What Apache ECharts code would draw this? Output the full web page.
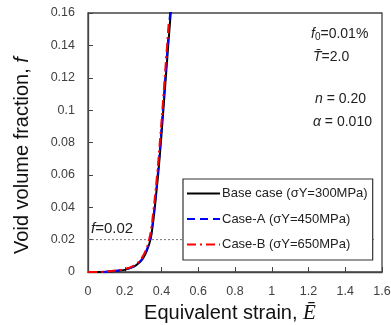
<!DOCTYPE html>
<html><head><meta charset="utf-8">
<script src="https://cdn.jsdelivr.net/npm/echarts@6/dist/echarts.min.js"></script>
<style>html,body{margin:0;padding:0;background:#fff}#c{width:391px;height:325px}</style>
</head><body><div id="c"></div>
<script>
// Data
const strainBase = [0, 0.05, 0.10, 0.15, 0.20, 0.25, 0.28, 0.30, 0.32, 0.34, 0.35, 0.36, 0.37, 0.38, 0.39, 0.40, 0.42, 0.44, 0.455];
const fBase      = [0, 0, 0.0002, 0.0006, 0.0013, 0.0033, 0.0058, 0.0085, 0.013, 0.020, 0.027, 0.036, 0.047, 0.058, 0.071, 0.085, 0.115, 0.145, 0.167];
const strainA    = [0, 0.05, 0.10, 0.15, 0.20, 0.25, 0.28, 0.30, 0.32, 0.34, 0.35, 0.36, 0.37, 0.38, 0.39, 0.40, 0.42, 0.44, 0.455];
const fA         = [0, 0, 0.0002, 0.0007, 0.0015, 0.0036, 0.0062, 0.009, 0.0138, 0.021, 0.0285, 0.038, 0.049, 0.061, 0.074, 0.089, 0.119, 0.150, 0.172];
const strainB    = [0, 0.05, 0.10, 0.15, 0.20, 0.25, 0.28, 0.30, 0.32, 0.33, 0.34, 0.35, 0.36, 0.37, 0.38, 0.39, 0.40, 0.42, 0.44];
const fB         = [0, 0, 0.0003, 0.0009, 0.0018, 0.0040, 0.0068, 0.010, 0.015, 0.019, 0.024, 0.032, 0.042, 0.053, 0.065, 0.079, 0.093, 0.124, 0.155];
const xTicks = {min: 0, max: 1.6, step: 0.2};
const yTicks = {min: 0, max: 0.16, step: 0.02};
const refLevel = 0.02;
const refSpan = [0, 1.56];
const names = ['Base case (σY=300MPa)', 'Case-A (σY=450MPa)', 'Case-B (σY=650MPa)'];

const zip = (a, b) => a.map((v, i) => [v, b[i]]);
const chart = echarts.init(document.getElementById('c'));
const FONT = 'Liberation Sans, Arial, sans-serif';
const ann = (fs) => ({
  i: {fontSize: fs, fontStyle: 'italic', fill: '#222', fontFamily: FONT},
  s: {fontSize: fs - 4, fill: '#222', fontFamily: FONT, padding: [6, 0, 0, 0]},
  n: {fontSize: fs, fill: '#222', fontFamily: FONT}
});
chart.setOption({
  animation: false,
  textStyle: {fontFamily: FONT},
  grid: {left: 88, right: 9, top: 13, bottom: 53, show: true, borderColor: '#444', borderWidth: 1.3,
         containLabel: false, outerBoundsMode: 'none'},
  xAxis: {
    type: 'value', min: xTicks.min, max: xTicks.max, interval: xTicks.step,
    axisLine: {lineStyle: {color: '#444', width: 1.3}},
    axisTick: {inside: true, length: 5, lineStyle: {color: '#444'}},
    splitLine: {show: false},
    axisLabel: {color: '#404040', fontSize: 12.5, margin: 13, fontFamily: FONT},
    name: '{t|Equivalent strain, }{e|E\u0304}', nameLocation: 'middle', nameGap: 21,
    nameTextStyle: {padding: [0, 10, 0, 0], rich: {
      t: {fontSize: 20, color: '#111', fontFamily: FONT},
      e: {fontSize: 21, color: '#111', fontFamily: 'Liberation Serif, serif', fontStyle: 'italic'}
    }}
  },
  yAxis: {
    type: 'value', min: yTicks.min, max: yTicks.max, interval: yTicks.step,
    axisLine: {lineStyle: {color: '#444', width: 1.3}},
    axisTick: {inside: true, length: 5, lineStyle: {color: '#444'}},
    splitLine: {show: false},
    axisLabel: {color: '#404040', fontSize: 12.5, margin: 13, fontFamily: FONT},
    name: '{t|Void volume fraction, }{i|f}', nameLocation: 'middle', nameGap: 56,
    nameTextStyle: {padding: [0, 26, 0, 0], rich: {
      t: {fontSize: 20, color: '#111', fontFamily: FONT},
      i: {fontSize: 20, color: '#111', fontFamily: FONT, fontStyle: 'italic'}
    }}
  },
  legend: {
    data: names, orient: 'vertical', left: 183, top: 179,
    itemWidth: 33, itemHeight: 12, itemGap: 12.5,
    padding: [8, 5, 9, 3],
    itemStyle: {opacity: 0},
    borderColor: '#333', borderWidth: 1.2, backgroundColor: '#fff',
    textStyle: {fontSize: 13, color: '#222', fontFamily: FONT, padding: [0, 0, 0, -3]}
  },
  graphic: [
    {type: 'text', left: 311, top: 27, style: {text: '{i|f}{s|0}{n|=0.01%}', rich: ann(14)}},
    {type: 'text', left: 313, top: 50, style: {text: '{i|T\u0304}{n|=2.0}', rich: ann(14)}},
    {type: 'text', left: 315, top: 92, style: {text: '{i|n}{n| = 0.20}', rich: ann(14)}},
    {type: 'text', left: 313, top: 115, style: {text: '{i|α}{n| = 0.010}', rich: ann(14)}},
    {type: 'text', left: 91, top: 221, style: {text: '{i|f}{n|=0.02}', rich: ann(15)}}
  ],
  series: [
    {name: 'ref', type: 'line', data: [[refSpan[0], refLevel], [refSpan[1], refLevel]], symbol: 'none',
     lineStyle: {color: '#777', width: 1, type: [2, 2]}, z: 1, silent: true},
    {name: names[0], type: 'line', data: zip(strainBase, fBase), symbol: 'none', smooth: 0.3,
     lineStyle: {color: '#000', width: 2}, itemStyle: {color: '#000'}, z: 3},
    {name: names[1], type: 'line', data: zip(strainA, fA), symbol: 'none', smooth: 0.3,
     lineStyle: {color: '#0000ff', width: 2, type: [8, 5]}, itemStyle: {color: '#0000ff'}, z: 4},
    {name: names[2], type: 'line', data: zip(strainB, fB), symbol: 'none', smooth: 0.3,
     lineStyle: {color: '#ff0000', width: 2, type: [9, 4, 2, 4]}, itemStyle: {color: '#ff0000'}, z: 5}
  ]
});
</script></body></html>
